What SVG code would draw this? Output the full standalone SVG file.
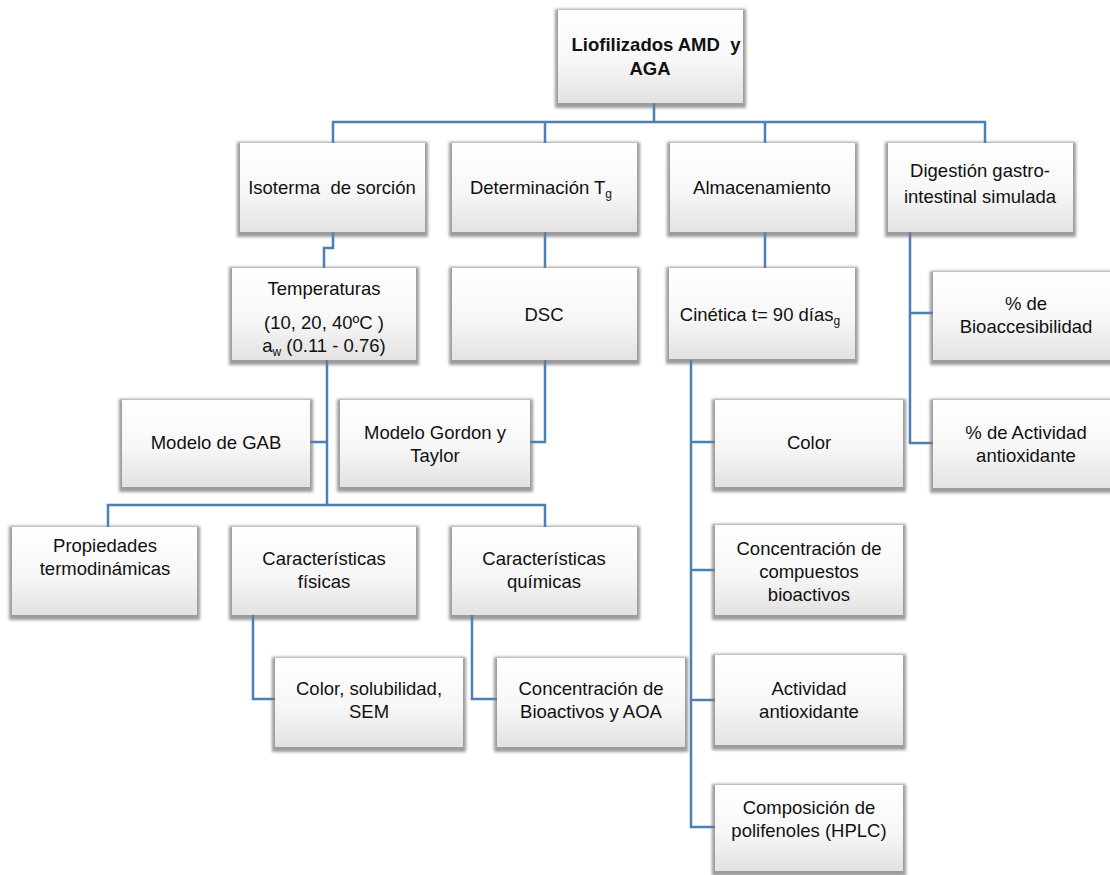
<svg xmlns="http://www.w3.org/2000/svg" width="1110" height="875" viewBox="0 0 1110 875">
  <defs>
    <linearGradient id="boxFill" x1="0" y1="0" x2="0" y2="1">
      <stop offset="0" stop-color="#ffffff"/>
      <stop offset="0.55" stop-color="#f7f7f7"/>
      <stop offset="1" stop-color="#e2e2e2"/>
    </linearGradient>
    <filter id="halo" x="-10%" y="-15%" width="120%" height="135%">
      <feMorphology in="SourceAlpha" operator="dilate" radius="2.5" result="grow"/>
      <feOffset in="grow" dx="0" dy="2" result="shift"/>
      <feGaussianBlur in="shift" stdDeviation="1.6" result="soft"/>
      <feFlood flood-color="#7a7a7a" flood-opacity="0.75"/>
      <feComposite in2="soft" operator="in" result="shadow"/>
      <feMerge>
        <feMergeNode in="shadow"/>
        <feMergeNode in="SourceGraphic"/>
      </feMerge>
    </filter>
  </defs>
  <style>
    .box { fill: url(#boxFill); filter: url(#halo); }
    .t { font-family: "Liberation Sans", Arial, sans-serif; font-size: 18.5px; fill: #111; text-anchor: middle; }
    .b { font-weight: bold; }
    .sub { font-size: 12px; }
    .wire { fill: none; stroke: #4a7fb8; stroke-width: 2.5; }
  </style>

  <rect width="1110" height="875" fill="#ffffff"/>

  <!-- connectors -->
  <g id="connectors" class="wire">
    <path d="M654 103 V122 M333 143 V122 H985 V143 M545 122 V143 M765 122 V143"/>
    <path d="M333 232 V248 H324 V268"/>
    <path d="M545 232 V268"/>
    <path d="M765 232 V268"/>
    <path d="M327 360 V505 M327 442 H310 M108 527 V505 H545 V527"/>
    <path d="M545 360 V442 H530"/>
    <path d="M253 615 V699 H275"/>
    <path d="M472 615 V699 H497"/>
    <path d="M691 360 V827 H715 M691 442 H715 M691 570 H715 M691 700 H715"/>
    <path d="M910 232 V443 H933 M910 313 H933"/>
  </g>

  <!-- root -->
  <g id="n-root">
    <rect class="box" x="558" y="10" width="185" height="93"/>
    <text class="t b" x="656" y="51">Liofilizados AMD&#160; y</text>
    <text class="t b" x="650" y="75">AGA</text>
  </g>

  <!-- first level -->
  <g id="n-isoterma">
    <rect class="box" x="240" y="143" width="185" height="89"/>
    <text class="t" x="332" y="194">Isoterma&#160; de sorción</text>
  </g>
  <g id="n-tg">
    <rect class="box" x="452" y="143" width="185" height="89"/>
    <text class="t" x="541" y="194">Determinación T<tspan class="sub" dy="4">g</tspan></text>
  </g>
  <g id="n-almacenamiento">
    <rect class="box" x="670" y="143" width="185" height="89"/>
    <text class="t" x="762" y="194">Almacenamiento</text>
  </g>
  <g id="n-digestion">
    <rect class="box" x="888" y="143" width="185" height="89"/>
    <text class="t" x="980" y="177">Digestión gastro-</text>
    <text class="t" x="980" y="203">intestinal simulada</text>
  </g>

  <!-- second level -->
  <g id="n-temperaturas">
    <rect class="box" x="232" y="268" width="184" height="92"/>
    <text class="t" x="324" y="295">Temperaturas</text>
    <text class="t" x="324" y="329">(10, 20, 40ºC )</text>
    <text class="t" x="324" y="352">a<tspan class="sub" dy="4">w</tspan><tspan dy="-4"> (0.11 - 0.76)</tspan></text>
  </g>
  <g id="n-dsc">
    <rect class="box" x="452" y="268" width="185" height="92"/>
    <text class="t" x="544" y="321">DSC</text>
  </g>
  <g id="n-cinetica">
    <rect class="box" x="669" y="268" width="186" height="91"/>
    <text class="t" x="760" y="321">Cinética t= 90 días<tspan class="sub" dy="4">g</tspan></text>
  </g>
  <g id="n-bioacc">
    <rect class="box" x="933" y="272" width="185" height="88"/>
    <text class="t" x="1026" y="310">% de</text>
    <text class="t" x="1026" y="333">Bioaccesibilidad</text>
  </g>

  <!-- third level -->
  <g id="n-gab">
    <rect class="box" x="122" y="400" width="188" height="87"/>
    <text class="t" x="216" y="449">Modelo de GAB</text>
  </g>
  <g id="n-gordon">
    <rect class="box" x="340" y="400" width="190" height="87"/>
    <text class="t" x="435" y="439">Modelo Gordon y</text>
    <text class="t" x="435" y="462">Taylor</text>
  </g>
  <g id="n-color">
    <rect class="box" x="715" y="400" width="188" height="87"/>
    <text class="t" x="809" y="449">Color</text>
  </g>
  <g id="n-actividad-dig">
    <rect class="box" x="933" y="400" width="185" height="88"/>
    <text class="t" x="1026" y="439">% de Actividad</text>
    <text class="t" x="1026" y="462">antioxidante</text>
  </g>

  <!-- fourth level -->
  <g id="n-termo">
    <rect class="box" x="12" y="527" width="185" height="88"/>
    <text class="t" x="105" y="552">Propiedades</text>
    <text class="t" x="105" y="575">termodinámicas</text>
  </g>
  <g id="n-fisicas">
    <rect class="box" x="232" y="527" width="184" height="88"/>
    <text class="t" x="324" y="565">Características</text>
    <text class="t" x="324" y="588">físicas</text>
  </g>
  <g id="n-quimicas">
    <rect class="box" x="452" y="527" width="185" height="88"/>
    <text class="t" x="544" y="565">Características</text>
    <text class="t" x="544" y="588">químicas</text>
  </g>
  <g id="n-compuestos">
    <rect class="box" x="715" y="525" width="188" height="90"/>
    <text class="t" x="809" y="555">Concentración de</text>
    <text class="t" x="809" y="578">compuestos</text>
    <text class="t" x="809" y="601">bioactivos</text>
  </g>

  <!-- fifth level -->
  <g id="n-solubilidad">
    <rect class="box" x="275" y="658" width="188" height="89"/>
    <text class="t" x="369" y="695">Color, solubilidad,</text>
    <text class="t" x="369" y="718">SEM</text>
  </g>
  <g id="n-bioactivos-aoa">
    <rect class="box" x="497" y="658" width="188" height="89"/>
    <text class="t" x="591" y="695">Concentración de</text>
    <text class="t" x="591" y="718">Bioactivos y AOA</text>
  </g>
  <g id="n-antioxidante">
    <rect class="box" x="715" y="655" width="188" height="90"/>
    <text class="t" x="809" y="695">Actividad</text>
    <text class="t" x="809" y="718">antioxidante</text>
  </g>
  <g id="n-hplc">
    <rect class="box" x="715" y="785" width="188" height="86"/>
    <text class="t" x="809" y="814">Composición de</text>
    <text class="t" x="809" y="837">polifenoles (HPLC)</text>
  </g>
</svg>
